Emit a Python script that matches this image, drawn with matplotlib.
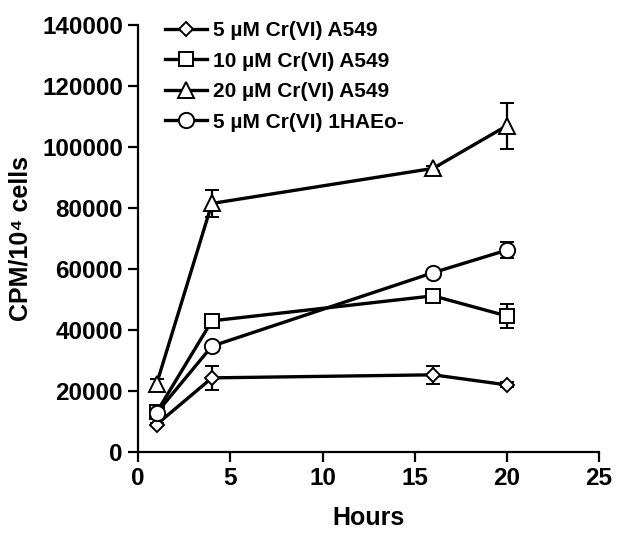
import matplotlib
matplotlib.use("Agg")
import matplotlib.pyplot as plt

plt.rcParams['font.family'] = ['Liberation Sans', 'DejaVu Sans']
plt.rcParams['font.weight'] = 'bold'

hours = [1, 4, 16, 20]

labels = ["5 µM Cr(VI) A549", "10 µM Cr(VI) A549", "20 µM Cr(VI) A549", "5 µM Cr(VI) 1HAEo-"]

cr5_a549 = [9000, 24300, 25300, 22000]
cr5_a549_err = [500, 3900, 3000, 800]

cr10_a549 = [13000, 43000, 51200, 44600]
cr10_a549_err = [500, 800, 800, 4000]

cr20_a549 = [22300, 81500, 93000, 107000]
cr20_a549_err = [1600, 4300, 800, 7500]

cr5_1haeo = [12800, 34700, 58800, 66200]
cr5_1haeo_err = [500, 800, 800, 2500]

series = [
    (cr5_a549, cr5_a549_err, 'D', 7.5),
    (cr10_a549, cr10_a549_err, 's', 9.5),
    (cr20_a549, cr20_a549_err, '^', 11),
    (cr5_1haeo, cr5_1haeo_err, 'o', 11),
]

fig = plt.figure(figsize=(6.28, 5.34), dpi=100)
ax = fig.add_axes([0.22, 0.1536, 0.734, 0.7995])

for (vals, errs, mk, ms), lab in zip(series, labels):
    ax.errorbar(hours, vals, yerr=errs, color='black', lw=2.4, marker=mk,
                markersize=ms, markerfacecolor='white', markeredgecolor='black',
                markeredgewidth=1.4, ecolor='black', elinewidth=1.6, capsize=5,
                capthick=1.6, label=lab)

ax.set_xlim(0, 25)
ax.set_ylim(0, 140000)
ax.set_xticks([0, 5, 10, 15, 20, 25])
ax.set_yticks(range(0, 140001, 20000))
ax.spines['top'].set_visible(False)
ax.spines['right'].set_visible(False)
for s in ['left', 'bottom']:
    ax.spines[s].set_linewidth(1.6)
ax.tick_params(direction='out', length=7, width=1.6, labelsize=17.5, pad=4)
for t in ax.get_xticklabels() + ax.get_yticklabels():
    t.set_fontweight('bold')

ax.set_xlabel('Hours', fontsize=18, fontweight='bold', labelpad=11)
ax.set_ylabel('CPM/10\u2074 cells', fontsize=18, fontweight='bold', labelpad=7)

handles, labs = ax.get_legend_handles_labels()
handles = [h[0] for h in handles]
leg = ax.legend(handles, labs, loc='upper left', bbox_to_anchor=(0.058, 1.009),
                frameon=False, fontsize=15, handlelength=2.0, handletextpad=0.3,
                labelspacing=0.55, borderaxespad=0, borderpad=0)
for t in leg.get_texts():
    t.set_fontweight('bold')

fig.savefig('out.png', dpi=100)
